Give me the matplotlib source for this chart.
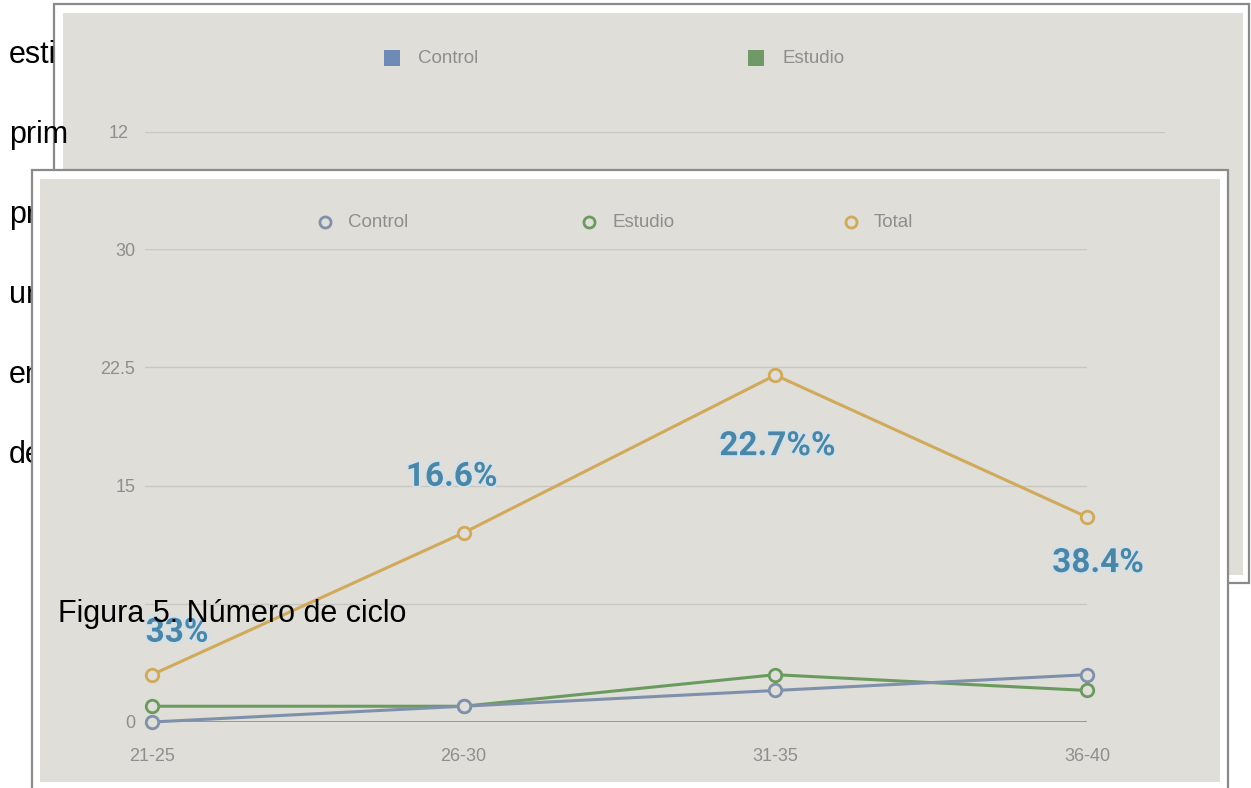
"""
Figura 5 - número de ciclo por grupo de edad (captura de documento con dos gráficas superpuestas)
"""

import matplotlib.pyplot as plt
import matplotlib.patches as mpatches
import matplotlib.patheffects as pe

# ─────────────────────────────────────────────
# DATA
# ─────────────────────────────────────────────

age_groups = ["21-25", "26-30", "31-35", "36-40"]
control = [0, 1, 2, 3]
estudio = [1, 1, 3, 2]
total = [3, 12, 22, 13]
pct_labels = ["33%", "16.6%", "22.7%%", "38.4%"]

y_ticks = [0, 7.5, 15, 22.5, 30]
y_tick_labels = ["0", "", "15", "22.5", "30"]

back_series = ["Control", "Estudio"]
back_tick = 12

doc_fragments = ["esti", "prim", "pri", "un", "en", "de"]
caption = "Figura 5. Número de ciclo"

# ─────────────────────────────────────────────
# STYLE
# ─────────────────────────────────────────────

W, H = 1251, 788
PHOTO_BG = "#dfded9"
FRAME = "#8a8a8a"
GRID = "#c8c8c3"
TICK_COL = "#8e8e8e"
PCT_COL = "#4a86a8"
COLORS = {"Control": "#7f90ab", "Estudio": "#6a9a5e", "Total": "#d1a95b"}
SQUARE_COLORS = {"Control": "#6f8ab5", "Estudio": "#6f9a68"}

plt.rcParams["font.family"] = ["Liberation Sans", "DejaVu Sans"]

fig = plt.figure(figsize=(W / 100, H / 100), dpi=100)
fig.patch.set_facecolor("white")


def px_axes(x0, y0, x1, y1, zorder):
    a = fig.add_axes([x0 / W, 1 - y1 / H, (x1 - x0) / W, (y1 - y0) / H])
    a.set_zorder(zorder)
    return a


def px_layer(zorder):
    a = px_axes(0, 0, W, H, zorder)
    a.set_xlim(0, W)
    a.set_ylim(H, 0)
    a.axis("off")
    a.patch.set_alpha(0)
    return a


# ── layer 0: document text + back picture ──
base = px_layer(0)
for i, word in enumerate(doc_fragments):
    base.text(9, 63 + 80 * i, word, fontsize=22,
              color="black", va="baseline", ha="left")

base.add_patch(mpatches.Rectangle((54, 4), 1195, 579, facecolor="white",
                                  edgecolor=FRAME, lw=1.6))
base.add_patch(mpatches.Rectangle((63, 13), 1180, 562, facecolor=PHOTO_BG,
                                  edgecolor="none"))
for name, sx, tx in zip(back_series, [384, 748], [418, 783]):
    base.add_patch(mpatches.Rectangle((sx, 50), 16, 16, facecolor=SQUARE_COLORS[name],
                                      edgecolor="none"))
    base.text(tx, 58, name, fontsize=13.5, color=TICK_COL, va="center", ha="left")

# ── layer 1: back chart axis (only its top gridline shows) ──
back = px_axes(145, 132, 1165, 500, 1)
back.patch.set_alpha(0)
back.set_ylim(0, back_tick)
back.set_yticks([back_tick])
back.set_yticklabels([str(back_tick)])
back.set_xticks([])
back.axhline(back_tick, color=GRID, lw=1)
back.tick_params(axis="y", length=0, pad=12, labelsize=13, labelcolor=TICK_COL)
for s in back.spines.values():
    s.set_visible(False)

# ── layer 2: front picture frame ──
front_bg = px_layer(2)
front_bg.add_patch(mpatches.Rectangle((32, 170), 1196, 640, facecolor="white",
                                      edgecolor=FRAME, lw=1.6))
front_bg.add_patch(mpatches.Rectangle((40, 179), 1180, 603, facecolor=PHOTO_BG,
                                      edgecolor="none"))
for name, mx in zip(["Control", "Estudio", "Total"], [325, 589, 851]):
    front_bg.plot([mx], [222], marker="o", ms=8, mfc=PHOTO_BG, mec=COLORS[name], mew=2)
    front_bg.text(mx + 23, 222, name, fontsize=13.5, color=TICK_COL, va="center", ha="left")

# ── layer 3: front line chart ──
ax = px_axes(145, 249, 1087, 722, 3)
ax.patch.set_alpha(0)
x = list(range(len(age_groups)))
ax.set_xlim(-0.0225, len(age_groups) - 1)
ax.set_ylim(0, 30)

for yv in y_ticks[1:]:
    ax.axhline(yv, color=GRID, lw=1, zorder=1)
ax.axhline(0, color="#8a8a8a", lw=1.2, zorder=1)

for name, vals in [("Total", total), ("Estudio", estudio), ("Control", control)]:
    ax.plot(x, vals, color=COLORS[name], lw=2.2, marker="o", ms=9,
            mfc=PHOTO_BG, mec=COLORS[name], mew=2, clip_on=False, zorder=3)

offsets = [(25, 42), (-12, 56), (2, -71), (11, -46)]
for xi, yv, lab, (dx, dy) in zip(x, total, pct_labels, offsets):
    ax.annotate(lab, (xi, yv), xytext=(dx * 0.72, dy * 0.72), textcoords="offset points",
                ha="center", va="center", fontsize=24, fontweight="bold",
                family=["Roboto", "DejaVu Sans"], color=PCT_COL, zorder=4,
                path_effects=[pe.withStroke(linewidth=3, foreground="#d3e0e8")])

ax.set_yticks(y_ticks)
ax.set_yticklabels(y_tick_labels)
ax.set_xticks(x)
ax.set_xticklabels(age_groups)
ax.tick_params(axis="y", length=0, pad=7, labelsize=13, labelcolor=TICK_COL)
ax.tick_params(axis="x", length=0, pad=19, labelsize=13, labelcolor=TICK_COL)
for s in ax.spines.values():
    s.set_visible(False)

# ── caption on top ──
fig.text(58 / W, 1 - 622 / H, caption, fontsize=22, color="black",
         va="baseline", ha="left", zorder=10)

plt.savefig("out.png", dpi=100)
plt.close()
